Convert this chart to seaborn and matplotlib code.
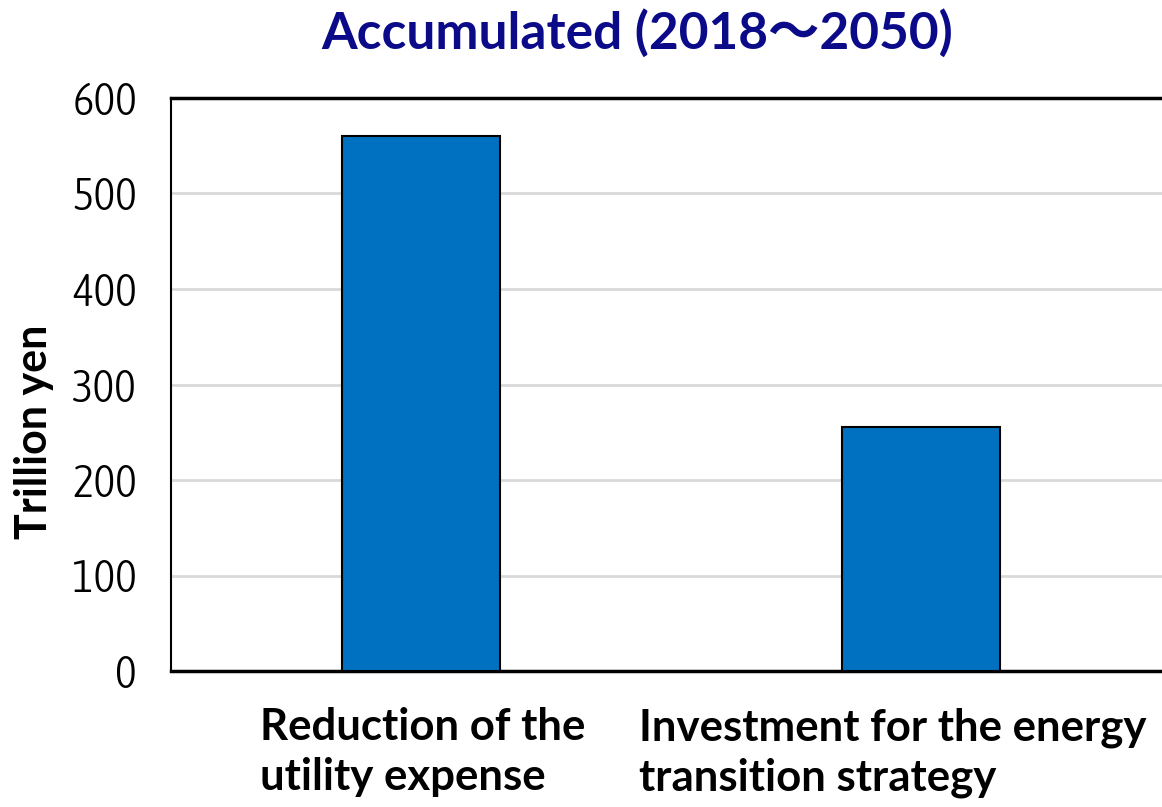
import matplotlib
matplotlib.use("Agg")
import matplotlib.pyplot as plt
import matplotlib.transforms as mtransforms
from matplotlib import font_manager
import seaborn as sns
import pandas as pd

categories = ["Reduction of the\nutility expense", "Investment for the energy\ntransition strategy"]
values = [560, 255]
yticks = [0, 100, 200, 300, 400, 500, 600]
title = "Accumulated (2018\uff5e2050)"
ylabel = "Trillion yen"

sns.set_theme(style="white")
plt.rcParams["font.family"] = ["Lato", "Noto Sans CJK JP", "DejaVu Sans"]


def narrow_font(size):
    """Pick a narrow sans face for the axis numbers, if one is installed."""
    entries = font_manager.fontManager.ttflist
    wanted = [
        lambda e: e.name == "Liberation Sans Narrow" and e.weight in (400, "normal") and e.style == "normal",
        lambda e: "Condensed" in e.name and e.style == "normal" and e.weight in (300, 400, "normal", "light"),
        lambda e: e.stretch in ("condensed", "semi-condensed", "extra-condensed", 75, 62.5, 87.5)
        and e.style == "normal" and e.weight in (400, "normal"),
    ]
    for test in wanted:
        for e in entries:
            try:
                ok = test(e)
            except Exception:
                ok = False
            if ok:
                return font_manager.FontProperties(fname=e.fname, size=size)
    return font_manager.FontProperties(family="Liberation Sans", size=size, stretch="condensed")


df = pd.DataFrame({"item": categories, "value": values})

fig = plt.figure(figsize=(11.62, 8.07), dpi=100)
ax = fig.add_axes([171 / 1162, 136 / 807, 1000 / 1162, 573 / 807])

sns.barplot(data=df, x="item", y="value", ax=ax, color="#0070C0",
            width=0.316, edgecolor="black", linewidth=1.5, saturation=1, zorder=3)

ax.set_xlim(-0.5, 1.5)
ax.set_ylim(0, 600)
ax.set_yticks(yticks)
ax.set_yticklabels([str(t) for t in yticks])
num_font = narrow_font(33)
for lbl in ax.get_yticklabels():
    lbl.set_fontproperties(num_font)
ax.yaxis.grid(True, color="#d9d9d9", linewidth=2, zorder=0)
ax.set_axisbelow(True)
ax.tick_params(axis="y", length=0, pad=24.5, colors="black")
ax.tick_params(axis="x", length=0, pad=26)

for lbl in ax.get_xticklabels():
    lbl.set_fontweight("bold")
    lbl.set_fontsize(31.5)
    lbl.set_color("black")
    lbl.set_ha("center")
    lbl.set_multialignment("left")
    lbl.set_linespacing(1.3)
shift = [2, -28]
for lbl, dx in zip(ax.get_xticklabels(), shift):
    lbl.set_transform(lbl.get_transform() + mtransforms.ScaledTranslation(dx / 100, 0, fig.dpi_scale_trans))

ax.set_xlabel("")
ax.set_ylabel("")
fig.text(34 / 1162, 1 - 432 / 807, ylabel, rotation=90, ha="center", va="center",
         fontsize=31, fontweight="bold", color="black")

for side in ["left", "bottom", "top", "right"]:
    ax.spines[side].set_color("black")
ax.spines["left"].set_linewidth(1.5)
ax.spines["bottom"].set_linewidth(2.5)
ax.spines["top"].set_linewidth(2.5)
ax.spines["right"].set_linewidth(2.5)

fig.text(637 / 1162, 1 - 33 / 807, title, ha="center", va="center",
         fontsize=37, fontweight="bold", color="#0B0B8A")

fig.savefig("out.png", dpi=100)
